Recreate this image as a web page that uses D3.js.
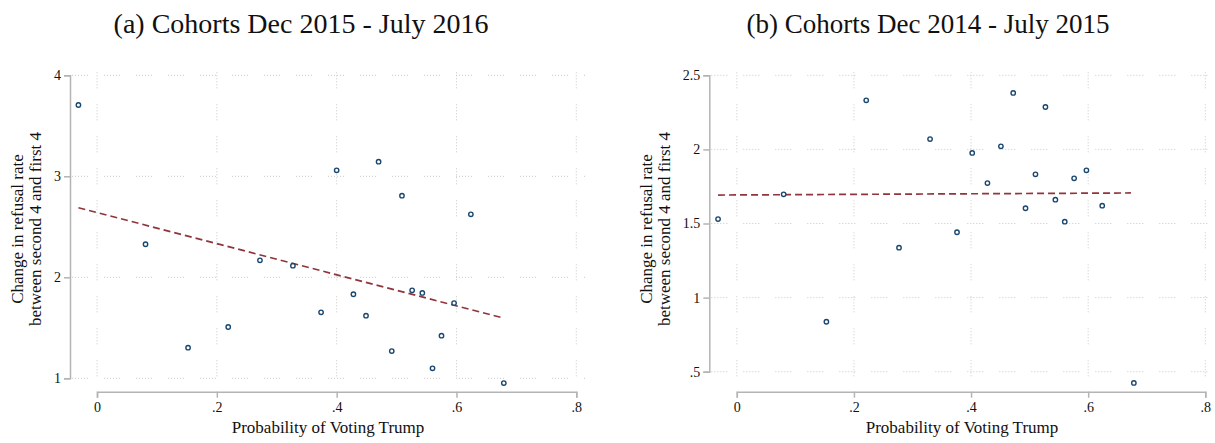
<!DOCTYPE html>
<html lang="en">
<head>
    <meta charset="UTF-8">
    <title>Refusal rate vs probability of voting Trump</title>
    <script src="https://d3js.org/d3.v7.min.js"></script>
    <style>
        body { margin: 0; background: #fff; }
        svg { display: block; }
        text { font-family: "Liberation Serif", "Times New Roman", Times, serif !important; fill: #111; }
        .axis path, .axis line { stroke: #b4b4b4; stroke-width: 1.5px; }
        .axis text { font-size: 14px; }
        .grid line { stroke: #c8c8c8; stroke-width: 1px; stroke-dasharray: 1,2,1,2,1,2,1,2,1,2,1,16; }
        .pt { fill: #fff; stroke: #1a476f; stroke-width: 1.4px; }
        .fit { fill: none; stroke: #90353b; stroke-width: 1.7px; stroke-dasharray: 7,4; }
    </style>
</head>
<body>
<svg width="1215" height="443"></svg>
<script>
    const serif = '"Liberation Serif", "Times New Roman", Times, serif';

    // panel (a): cohorts Dec 2015 - July 2016
    const trumpProbA = [-0.031, 0.081, 0.152, 0.219, 0.272, 0.327, 0.374, 0.400, 0.428, 0.449,
                        0.470, 0.492, 0.509, 0.526, 0.543, 0.560, 0.575, 0.596, 0.624, 0.679];
    const refusalA   = [3.706, 2.327, 1.303, 1.508, 2.168, 2.115, 1.653, 3.059, 1.832, 1.620,
                        3.145, 1.270, 2.808, 1.871, 1.845, 1.099, 1.422, 1.745, 2.624, 0.953];
    const fitA = [[-0.031, 2.689], [0.676, 1.600]];
    const yTicksA = [1, 2, 3, 4];

    // panel (b): cohorts Dec 2014 - July 2015
    const trumpProbB = [-0.032, 0.080, 0.153, 0.221, 0.277, 0.330, 0.376, 0.402, 0.428, 0.451,
                        0.472, 0.493, 0.510, 0.527, 0.544, 0.560, 0.576, 0.597, 0.624, 0.678];
    const refusalB   = [1.530, 1.697, 0.837, 2.331, 1.337, 2.070, 1.441, 1.976, 1.773, 2.021,
                        2.381, 1.603, 1.832, 2.286, 1.661, 1.512, 1.805, 1.859, 1.620, 0.424];
    const fitB = [[-0.032, 1.692], [0.673, 1.706]];
    const yTicksB = [0.5, 1, 1.5, 2, 2.5];

    const xTicks = [0, 0.2, 0.4, 0.6, 0.8];
    const yTitle = ['Change in refusal rate', 'between second 4 and first 4'];
    const xTitle = 'Probability of Voting Trump';

    // stata-ish labels: .2 instead of 0.2
    const fmt = d => d === 0 ? '0' : String(d).replace(/^0\./, '.');

    const svg = d3.select('svg');

    function drawPanel(p) {
        const g = svg.append('g');
        const x = d3.scaleLinear().domain([0, 0.8]).range([p.x0, p.x1]);
        const y = d3.scaleLinear().domain(p.yDomain).range([p.yBottom, p.yTop]);

        // dotted grid
        const grid = g.append('g').attr('class', 'grid');
        grid.selectAll('.h').data(p.yTicks).join('line')
            .attr('x1', p.axisX + 2).attr('x2', p.gridRight)
            .attr('y1', d => y(d)).attr('y2', d => y(d));
        grid.selectAll('.v').data(xTicks).join('line')
            .attr('x1', d => x(d)).attr('x2', d => x(d))
            .attr('y1', p.yTop - 3).attr('y2', p.yBottom + 6);

        const ya = g.append('g').attr('class', 'axis')
            .attr('transform', `translate(${p.axisX},0)`)
            .call(d3.axisLeft(y).tickValues(p.yTicks).tickFormat(fmt).tickSizeOuter(0).tickSize(6).tickPadding(3));
        const xa = g.append('g').attr('class', 'axis')
            .attr('transform', `translate(0,${p.axisY})`)
            .call(d3.axisBottom(x).tickValues(xTicks).tickFormat(fmt).tickSizeOuter(0).tickSize(6).tickPadding(4));
        ya.attr('font-family', serif).attr('font-size', 14);
        xa.attr('font-family', serif).attr('font-size', 14);

        g.append('path').attr('class', 'fit')
            .attr('d', d3.line().x(d => x(d[0])).y(d => y(d[1]))(p.fit));

        g.selectAll('.pt').data(p.xs).join('circle')
            .attr('class', 'pt')
            .attr('cx', d => x(d))
            .attr('cy', (d, i) => y(p.ys[i]))
            .attr('r', 2.2);

        svg.append('text')
            .attr('x', p.titleX).attr('y', 33)
            .attr('text-anchor', 'middle')
            .style('font-family', serif)
            .style('font-size', p.titleSize + 'px')
            .text(p.title);

        const yt = svg.append('text')
            .attr('transform', `translate(${p.yTitleX},229) rotate(-90)`)
            .attr('text-anchor', 'middle')
            .style('font-family', serif)
            .style('font-size', '17px');
        yt.append('tspan').attr('x', 0).attr('dy', 0).text(yTitle[0]);
        yt.append('tspan').attr('x', 0).attr('dy', 17.5).text(yTitle[1]);

        svg.append('text')
            .attr('x', p.xTitleX).attr('y', 433)
            .attr('text-anchor', 'middle')
            .style('font-family', serif)
            .style('font-size', '17px')
            .text(xTitle);
    }

    drawPanel({
        title: '(a) Cohorts Dec 2015 - July 2016', titleX: 301, titleSize: 28,
        xs: trumpProbA, ys: refusalA, fit: fitA,
        yDomain: [1, 4], yTicks: yTicksA,
        x0: 97, x1: 576.3, yBottom: 378.3, yTop: 75.3,
        axisX: 70, axisY: 391.7, gridRight: 585,
        yTitleX: 23, xTitleX: 328
    });

    drawPanel({
        title: '(b) Cohorts Dec 2014 - July 2015', titleX: 928, titleSize: 27,
        xs: trumpProbB, ys: refusalB, fit: fitB,
        yDomain: [0.5, 2.5], yTicks: yTicksB,
        x0: 736.8, x1: 1205.3, yBottom: 371.7, yTop: 75.3,
        axisX: 709.3, axisY: 391.7, gridRight: 1213,
        yTitleX: 652, xTitleX: 962
    });
</script>
</body>
</html>
